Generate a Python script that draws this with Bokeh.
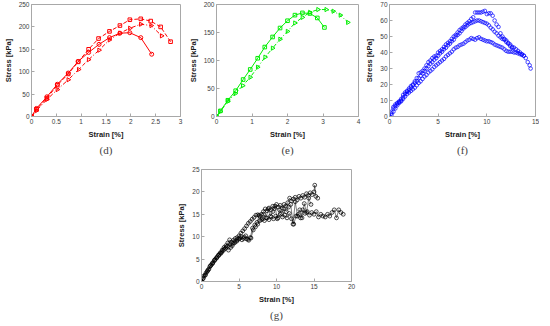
import numpy as np
from bokeh.plotting import figure
from bokeh.layouts import column, row
from bokeh.models import (Range1d, Title, NumeralTickFormatter, FixedTicker, Spacer)
from bokeh.embed import file_html
from bokeh.resources import INLINE

# ---------------- data ----------------
# (d)
d_x_circ = [0, 0.1, 0.31, 0.52, 0.74, 0.94, 1.15, 1.36, 1.57, 1.78, 1.98, 2.2, 2.42]
d_y_circ = [0, 18, 44, 72, 97, 123, 143, 161, 176, 186, 187, 176, 139]
d_x_sq = [0, 0.1, 0.31, 0.52, 0.74, 0.94, 1.15, 1.35, 1.57, 1.78, 1.98, 2.2, 2.4, 2.6, 2.8]
d_y_sq = [0, 16, 41, 70, 95, 122, 150, 174, 190, 203, 216, 218, 213, 200, 167]
d_x_tri = [0, 0.1, 0.31, 0.52, 0.74, 0.95, 1.15, 1.36, 1.57, 1.78, 1.98, 2.2, 2.41, 2.62]
d_y_tri = [0, 13, 38, 60, 82, 105, 127, 148, 171, 186, 197, 206, 203, 180]

# (e)
e_x_sq = [0, 0.11, 0.32, 0.54, 0.75, 0.95, 1.16, 1.36, 1.58, 1.79, 2.0, 2.21, 2.42, 2.63, 2.84, 3.04]
e_y_sq = [0, 10, 29, 46, 66, 84, 104, 124, 142, 158, 171, 181, 185, 184, 176, 159]
e_x_tri = [0, 0.11, 0.32, 0.53, 0.74, 0.95, 1.16, 1.37, 1.58, 1.79, 2.0, 2.21, 2.42, 2.63,
           2.86, 3.09, 3.29, 3.49, 3.7]
e_y_tri = [0, 9, 27, 41, 55, 70, 88, 106, 122, 138, 152, 167, 177, 186, 191, 191, 188, 181, 168]

# (f)
f1_x = [0, 0.2, 0.4, 0.6, 0.8, 1.0, 1.2, 1.4, 1.6, 1.8, 2.0, 2.2, 2.4, 2.6, 2.8, 3.0, 3.2, 3.4,
        3.6, 3.8, 4.0, 4.2, 4.4, 4.6, 4.8, 5.0, 5.2, 5.4, 5.6, 5.8, 6.0, 6.2, 6.4, 6.6, 6.8,
        7.0, 7.2, 7.4, 7.6, 7.8, 8.0, 8.2, 8.4, 8.6, 8.8, 9.0, 9.2, 9.4, 9.6, 9.8, 10.0, 10.2,
        10.4, 10.6, 10.8, 11.0, 11.2, 11.4, 11.6, 11.8, 12.0, 12.2, 12.4, 12.6]
f1_y = [0, 3, 6, 7.5, 8.5, 9.5, 11, 13.5, 15, 16, 17.5, 19, 20, 22, 24, 27, 27.5, 28.5,
        30, 32, 34, 35, 36.5, 37.5, 38, 40, 41, 42, 43.5, 45, 46, 47, 48.5, 50, 51,
        52.5, 54, 55, 56, 57.5, 58.5, 59.5, 61, 62, 65, 65, 65, 65, 65.5, 66, 64, 64.5,
        64.5, 63, 60, 57.5, 56, 52, 50, 48.5, 47.5, 46, 44, 43]
f2_x = [0, 0.2, 0.4, 0.6, 0.8, 1.0, 1.2, 1.4, 1.6, 1.8, 2.0, 2.2, 2.4, 2.6, 2.8, 3.0, 3.2, 3.4,
        3.6, 3.8, 4.0, 4.2, 4.4, 4.6, 4.8, 5.0, 5.2, 5.4, 5.6, 5.8, 6.0, 6.2, 6.4, 6.6, 6.8,
        7.0, 7.2, 7.4, 7.6, 7.8, 8.0, 8.2, 8.4, 8.6, 8.8, 9.0, 9.2, 9.4, 9.6, 9.8, 10.0, 10.2,
        10.4, 10.6, 10.8, 11.0, 11.2, 11.4, 11.6, 11.8, 12.0, 12.2, 12.4, 12.6, 12.8, 13.0,
        13.2, 13.4, 13.6, 13.8, 14.0, 14.2, 14.4, 14.5]
f2_y = [0, 2, 5, 6.5, 8, 9, 10, 12, 14, 15.5, 16.5, 18, 19.5, 21, 22, 24, 25.5, 27,
        28.5, 30, 31.5, 33, 34, 35.5, 36.5, 38, 39.5, 40.5, 42, 43, 44.5, 45.5, 47, 48, 50,
        51, 52, 53.5, 55, 56, 57, 58, 58.5, 59, 59.5, 60, 60, 59.5, 59, 58.5, 58, 57,
        55.5, 54.5, 53, 52, 50.5, 49.5, 48.5, 48, 46.5, 45.5, 45, 43.5, 43, 42,
        41, 40, 39, 38, 36.5, 34, 32, 30]
f3_x = [0, 0.2, 0.4, 0.6, 0.8, 1.0, 1.2, 1.4, 1.6, 1.8, 2.0, 2.2, 2.4, 2.6, 2.8, 3.0, 3.2, 3.4,
        3.6, 3.8, 4.0, 4.2, 4.4, 4.6, 4.8, 5.0, 5.2, 5.4, 5.6, 5.8, 6.0, 6.2, 6.4, 6.6, 6.8,
        7.0, 7.2, 7.4, 7.6, 7.8, 8.0, 8.2, 8.4, 8.6, 8.8, 9.0, 9.2, 9.4, 9.6, 9.8, 10.0, 10.2,
        10.4, 10.6, 10.8, 11.0, 11.2, 11.4, 11.6, 11.8, 12.0, 12.2, 12.4, 12.6, 12.8, 13.0,
        13.2, 13.4, 13.6, 13.8]
f3_y = [0, 1, 3, 5, 7, 8.5, 9.5, 11, 12.5, 14, 15, 16, 17, 18, 19.5, 21, 22, 23.5,
        25, 26, 27.5, 28.5, 29.5, 31, 32, 33, 34, 35, 36, 37.5, 38.5, 39.5, 40.5, 42, 43,
        43.5, 44.5, 45, 45.5, 46.5, 47.5, 48, 49, 48.5, 48, 49, 49.5, 48.5, 48, 47.5, 47, 47,
        46.5, 46, 45, 44.5, 44, 43.5, 43, 42, 41, 40.5, 40.5, 40.5, 40, 40,
        39.5, 39, 38.5, 38]

# (g)
g1_x = [0, 0.25, 0.5, 0.75, 1.0, 1.25, 1.5, 1.75, 2.0, 2.25, 2.5, 2.75, 3.0, 3.25, 3.5, 3.75,
        4.0, 4.25, 4.5, 4.75, 5.0, 5.25, 5.5, 5.75, 6.0, 6.25, 6.5, 6.75, 7.0, 7.25, 7.5, 7.75,
        8.0, 8.25, 8.5, 8.75, 9.0, 9.25, 9.5, 9.75, 10.0, 10.25, 10.5, 10.75, 11.0, 11.25,
        11.5, 11.75, 12.0, 12.25, 12.5, 12.75, 13.0, 13.25, 13.5, 13.75, 14.0, 14.25, 14.5,
        14.75, 15.0, 15.1, 15.25, 15.5]
g1_y = [0, 0.8, 1.5, 2.2, 2.8, 3.6, 4.2, 4.8, 5.3, 5.9, 6.4, 7.0, 7.6, 8.0, 8.6, 9.3,
        8.8, 9.2, 9.6, 9.8, 10.2, 10.8, 11.3, 11.8, 12.4, 13.0, 13.4, 13.9, 14.3, 14.8, 14.9, 14.6,
        15.0, 15.6, 16.2, 15.8, 16.4, 16.0, 16.8, 16.3, 17.2, 16.6, 17.0, 16.4, 17.2, 16.8,
        17.6, 18.6, 18.0, 18.4, 18.8, 18.2, 19.0, 18.6, 19.2, 18.8, 19.6, 19.2, 19.8,
        19.4, 20.0, 21.5, 19.0, 18.6]
g2_x = [0, 0.3, 0.6, 0.9, 1.2, 1.5, 1.8, 2.1, 2.4, 2.7, 3.0, 3.3, 3.6, 3.9, 4.2, 4.5, 4.8,
        5.1, 5.4, 5.7, 6.0, 6.3, 6.6, 6.9, 7.2, 7.5, 7.8, 8.1, 8.4, 8.7, 9.0, 9.3, 9.6, 9.9,
        10.2, 10.5, 10.8, 11.1, 11.4, 11.7, 12.0, 12.3, 12.6, 12.9, 13.2, 13.5, 13.8, 14.1,
        14.4, 14.7, 15.0, 15.3, 15.6, 15.9, 16.2, 16.5, 16.8, 17.1, 17.4, 17.7, 18.0, 18.3,
        18.6, 18.9]
g2_y = [0, 1.2, 1.9, 2.6, 3.5, 4.1, 4.9, 5.5, 6.1, 6.6, 7.2, 7.7, 7.0, 7.6, 8.5, 8.9, 9.3,
        9.7, 9.3, 9.9, 9.5, 9.2, 9.7, 11.5, 12.2, 12.8, 13.6, 14.0, 13.6, 14.2, 13.8, 14.4, 14.0,
        14.6, 14.2, 15.0, 14.4, 14.8, 14.2, 15.2, 14.0, 12.8, 14.6, 15.0, 14.2, 16.0, 15.2,
        15.6, 14.8, 15.4, 15.0, 15.6, 14.4, 15.0, 14.6, 14.4, 15.0, 14.6, 15.4, 16.0, 14.2,
        16.0, 15.4, 15.0]
g3_x = [0, 0.2, 0.5, 0.8, 1.1, 1.4, 1.7, 2.0, 2.3, 2.6, 2.9, 3.2, 3.5, 3.8, 4.1, 4.4, 4.7,
        5.0, 5.3, 5.6, 5.9, 6.2, 6.5, 6.8, 7.1, 7.4, 7.7, 8.0, 8.3, 8.6, 8.9, 9.2, 9.5, 9.8,
        10.1, 10.4, 10.7, 11.0, 11.3, 11.6, 11.9, 12.2, 12.5, 12.8, 13.1, 13.4, 13.7, 14.0,
        14.3, 14.6]
g3_y = [0, 0.6, 1.4, 2.4, 3.3, 3.9, 4.6, 5.2, 5.8, 6.3, 6.9, 7.4, 7.9, 8.3, 8.0, 8.6, 9.0,
        9.5, 10.0, 9.6, 10.2, 9.4, 9.8, 11.9, 12.6, 13.2, 14.8, 13.8, 15.0, 14.2, 16.2, 14.6,
        15.6, 16.8, 14.0, 16.0, 15.2, 16.2, 15.6, 16.6, 17.2, 12.8, 17.8, 14.6, 16.0, 14.2,
        17.4, 15.4, 18.6, 17.2]

# axis settings
d_xticks = [0, 0.5, 1, 1.5, 2, 2.5, 3]
d_yticks = [0, 50, 100, 150, 200, 250]
e_xticks = [0, 1, 2, 3, 4]
e_yticks = [0, 50, 100, 150, 200]
f_xticks = [0, 5, 10, 15]
f_yticks = [0, 10, 20, 30, 40, 50, 60, 70]
g_xticks = [0, 5, 10, 15, 20]
g_yticks = [0, 5, 10, 15, 20, 25]

AX = "#a8a8a8"
SANS = "Liberation Sans"
SERIF = "Liberation Serif"


def make_fig(xr, yr, xticks, yticks, fw, fh, mbl, mbr, mbt, mbb, tag):
    p = figure(frame_width=fw, frame_height=fh,
               x_range=Range1d(*xr), y_range=Range1d(*yr),
               output_backend="svg", toolbar_location=None,
               min_border_left=mbl, min_border_right=mbr,
               min_border_top=mbt, min_border_bottom=mbb,
               background_fill_color="white", border_fill_color="white")
    p.grid.visible = False
    p.outline_line_color = AX
    p.outline_line_width = 1
    for ax, ticks, lab in ((p.xaxis[0], xticks, "Strain [%]"),
                           (p.yaxis[0], yticks, "Stress [kPa]")):
        ax.ticker = FixedTicker(ticks=ticks)
        ax.formatter = NumeralTickFormatter(format="0.[0]")
        ax.axis_label = lab
        ax.axis_label_text_font = SANS
        ax.axis_label_text_font_style = "bold"
        ax.axis_label_text_font_size = "7.5px"
        ax.axis_label_text_color = "#1a1a1a"
        ax.axis_label_standoff = 3
        ax.major_label_text_font = SANS
        ax.major_label_text_font_size = "6.5px"
        ax.major_label_text_color = "#404040"
        ax.major_label_standoff = 2
        ax.major_tick_in = 3
        ax.major_tick_out = 0
        ax.minor_tick_line_color = None
        ax.axis_line_color = AX
        ax.major_tick_line_color = AX
    p.add_layout(Title(text=tag, align="center", text_font=SERIF,
                       text_font_size="11px", text_font_style="normal",
                       standoff=1), "below")
    return p


# ---- (d)
pd_ = make_fig((0, 3), (0, 250), d_xticks, d_yticks, 149, 112, 26, 5, 4, 32, "(d)")
RED = "#ff0000"
pd_.line(d_x_circ, d_y_circ, line_color=RED, line_width=1)
pd_.scatter(d_x_circ, d_y_circ, marker="circle", size=4, line_color=RED, fill_color=None)
pd_.line(d_x_sq, d_y_sq, line_color=RED, line_width=1, line_dash="4 2")
pd_.scatter(d_x_sq, d_y_sq, marker="square", size=3.6, line_color=RED, fill_color=None)
pd_.line(d_x_tri, d_y_tri, line_color=RED, line_width=1, line_dash="4 2 1 2")
pd_.scatter(d_x_tri, d_y_tri, marker="triangle", size=4.2, angle=-np.pi / 2,
            line_color=RED, fill_color=None)

# ---- (e)
pe = make_fig((0, 4), (0, 200), e_xticks, e_yticks, 142, 112, 31, 3, 4, 32, "(e)")
GRN = "#00ee00"
pe.line(e_x_sq, e_y_sq, line_color=GRN, line_width=1)
pe.scatter(e_x_sq, e_y_sq, marker="square", size=3.6, line_color=GRN, fill_color=None)
pe.line(e_x_tri, e_y_tri, line_color=GRN, line_width=1, line_dash="4 2 1 2")
pe.scatter(e_x_tri, e_y_tri, marker="triangle", size=4.2, angle=-np.pi / 2,
           line_color=GRN, fill_color=None)

# ---- (f)
pf = make_fig((0, 15), (0, 70), f_xticks, f_yticks, 146, 112, 28, 4, 4, 32, "(f)")
BLU = "#0000ff"
for xs, ys in ((f1_x, f1_y), (f2_x, f2_y), (f3_x, f3_y)):
    pf.scatter(xs, ys, marker="circle", size=3.6, line_color=BLU, line_width=0.7,
               fill_color=None)

# ---- (g)
pg = make_fig((0, 20), (0, 25), g_xticks, g_yticks, 150, 112, 28, 5, 13, 37, "(g)")
for xs, ys in ((g1_x, g1_y), (g2_x, g2_y), (g3_x, g3_y)):
    pg.line(xs, ys, line_color="black", line_width=0.5)
    pg.scatter(xs, ys, marker="circle", size=3.8, line_color="black", line_width=0.7,
               fill_color=None)

layout = column(row(pd_, pe, pf, spacing=0),
                row(Spacer(width=173, height=10), pg, spacing=0), spacing=0)

open("out.html", "w").write(file_html(layout, INLINE))
